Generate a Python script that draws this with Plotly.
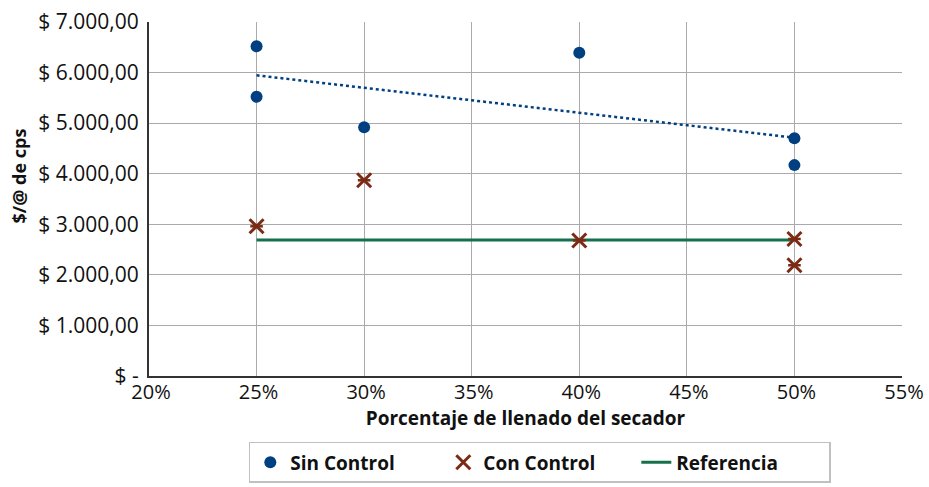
import numpy as np
import plotly.graph_objects as go

# Porcentaje de llenado (fracción) y costos $/@ de cps
sin_x = [0.25, 0.25, 0.30, 0.40, 0.50, 0.50]
sin_y = [6520, 5520, 4920, 6390, 4700, 4170]

con_x = [0.25, 0.30, 0.40, 0.50, 0.50]
con_y = [2960, 3870, 2680, 2710, 2190]

ref_x = [0.25, 0.50]
ref_y = [2690, 2690]

y_ticks = [0, 1000, 2000, 3000, 4000, 5000, 6000, 7000]
y_labels = ["$ -", "$ 1.000,00", "$ 2.000,00", "$ 3.000,00",
            "$ 4.000,00", "$ 5.000,00", "$ 6.000,00", "$ 7.000,00"]
x_ticks = [0.20, 0.25, 0.30, 0.35, 0.40, 0.45, 0.50, 0.55]
x_labels = ["20%", "25%", "30%", "35%", "40%", "45%", "50%", "55%"]

BLUE = "#004080"
BROWN = "#7b2a14"
GREEN = "#17704c"
FONT = "Open Sans"

# Tendencia lineal de la serie sin control
slope, intercept = np.polyfit(sin_x, sin_y, 1)
trend_x = [min(sin_x), max(sin_x)]
trend_y = [slope * v + intercept for v in trend_x]

fig = go.Figure()

fig.add_trace(go.Scatter(
    x=trend_x, y=trend_y, mode="lines",
    line=dict(color=BLUE, width=2.5, dash="dot"),
    showlegend=False, hoverinfo="skip"))

fig.add_trace(go.Scatter(
    x=ref_x, y=ref_y, mode="lines", name="Referencia",
    line=dict(color=GREEN, width=3), legendrank=3))

fig.add_trace(go.Scatter(
    x=sin_x, y=sin_y, mode="markers", name="Sin Control",
    marker=dict(symbol="circle", size=12, color=BLUE), legendrank=1))

# asterisco: aspa + barra horizontal
fig.add_trace(go.Scatter(
    x=con_x, y=con_y, mode="markers", showlegend=False, hoverinfo="skip",
    marker=dict(symbol="line-ew", size=9, line=dict(color=BROWN, width=2.5))))
fig.add_trace(go.Scatter(
    x=con_x, y=con_y, mode="markers", name="Con Control",
    marker=dict(symbol="x-thin", size=14, line=dict(color=BROWN, width=3)),
    legendrank=2))

fig.update_layout(
    width=929, height=487,
    margin=dict(l=149, r=27, t=22, b=111, autoexpand=False),
    paper_bgcolor="white", plot_bgcolor="white",
    font=dict(family=FONT, size=19, color="#111111"),
    showlegend=True,
    legend=dict(
        orientation="h", x=0.519, xanchor="center", y=-0.186, yanchor="top",
        bordercolor="#c0c0c0", borderwidth=1.5,
        font=dict(family=FONT, size=19, color="#111111", weight="bold"),
        entrywidth=148, itemwidth=30),
    xaxis=dict(
        range=[0.20, 0.55], tickvals=x_ticks, ticktext=x_labels,
        tickfont=dict(size=20),
        showgrid=True, gridcolor="#aaaaaa", gridwidth=1.3,
        showline=True, linecolor="#333333", linewidth=2,
        ticks="", zeroline=False, ticklabelstandoff=-3, ticklabelshift=2,
        title=dict(text="Porcentaje de llenado del secador",
                   font=dict(size=19, weight="bold"), standoff=6)),
    yaxis=dict(
        range=[0, 7000], tickvals=y_ticks, ticktext=y_labels,
        tickfont=dict(size=21),
        showgrid=True, gridcolor="#aaaaaa", gridwidth=1.3,
        showline=True, linecolor="#333333", linewidth=2,
        ticks="", zeroline=False, ticklabelstandoff=4),
    annotations=[dict(
        text="<b>$/@ de cps</b>", textangle=-90, xref="paper", yref="paper",
        x=-0.172, y=0.565, xanchor="center", yanchor="middle", showarrow=False,
        font=dict(size=18, family=FONT))],
)

fig.write_html("out.html")
